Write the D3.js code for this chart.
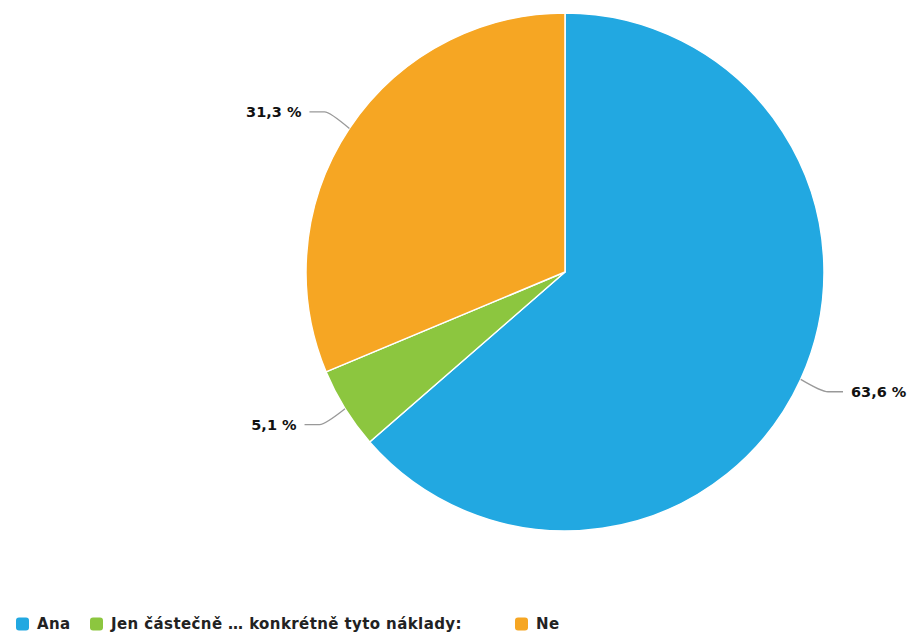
<!DOCTYPE html>
<html>
<head>
<meta charset="utf-8">
<script src="https://cdn.jsdelivr.net/npm/d3@7"></script>
<style>
  body { margin: 0; background: #fff; }
  svg { display: block; }
</style>
</head>
<body>
<svg id="chart" width="911" height="638"></svg>
<script>
"use strict";

const categories = ["Ana", "Jen částečně … konkrétně tyto náklady:", "Ne"];
const values = [63.6, 5.1, 31.3];
const labels = ["63,6 %", "5,1 %", "31,3 %"];
const colors = ["#22a8e1", "#8cc63f", "#f6a623"];

const width = 911;
const height = 638;
const cx = 565;
const cy = 272;
const radius = 259;
const labelDistance = 30;

const svg = d3.select("#chart");

const pie = d3.pie()
  .value(d => d.value)
  .sort(null);

const data = categories.map((c, i) => ({ name: c, value: values[i], label: labels[i], color: colors[i] }));
const arcs = pie(data);

const arc = d3.arc()
  .innerRadius(0)
  .outerRadius(radius);

const chart = svg.append("g")
  .attr("transform", `translate(${cx}, ${cy})`);

chart.selectAll("path.slice")
  .data(arcs)
  .enter()
  .append("path")
  .attr("class", "slice")
  .attr("d", arc)
  .attr("fill", d => d.data.color)
  .attr("stroke", "#fff")
  .attr("stroke-width", 1.5)
  .attr("stroke-linejoin", "round");

// data labels with connectors
const midAngle = d => (d.startAngle + d.endAngle) / 2;
const pointAt = (a, r) => [Math.sin(a) * r, -Math.cos(a) * r];

const labelGroup = chart.append("g");

arcs.forEach(d => {
  const a = midAngle(d);
  const side = Math.sin(a) >= 0 ? 1 : -1;
  const p0 = pointAt(a, radius);
  const p1 = pointAt(a, radius + labelDistance * 0.55);
  const p2 = pointAt(a, radius + labelDistance);
  const p3 = [p2[0] + side * 15, p2[1]];

  labelGroup.append("path")
    .attr("d", `M${p0[0]},${p0[1]} Q${p1[0] + side * 6},${p2[1]} ${p2[0]},${p2[1]} L${p3[0]},${p3[1]}`)
    .attr("fill", "none")
    .attr("stroke", "#999")
    .attr("stroke-width", 1.3);

  labelGroup.append("text")
    .attr("x", p3[0] + side * 8)
    .attr("y", p3[1])
    .attr("dy", "0.35em")
    .attr("text-anchor", side > 0 ? "start" : "end")
    .style("font-family", "'DejaVu Sans', sans-serif")
    .style("font-weight", "bold")
    .style("font-size", "14.5px")
    .style("fill", "#111")
    .text(d.data.label);
});

// legend
const legendX = [16, 90, 515];
const legendY = 624;

const legend = svg.append("g")
  .attr("class", "legend");

const items = legend.selectAll("g.item")
  .data(data)
  .enter()
  .append("g")
  .attr("class", "item")
  .attr("transform", (d, i) => `translate(${legendX[i]}, ${legendY})`);

items.append("rect")
  .attr("x", 0)
  .attr("y", -6.5)
  .attr("width", 13)
  .attr("height", 13)
  .attr("rx", 3)
  .attr("fill", d => d.color);

items.append("text")
  .attr("x", 21)
  .attr("y", 0)
  .attr("dy", "0.35em")
  .style("font-family", "'DejaVu Sans', sans-serif")
  .style("font-weight", "bold")
  .style("font-size", "15px")
  .style("letter-spacing", "0.4px")
  .style("fill", "#222")
  .text(d => d.name);
</script>
</body>
</html>
